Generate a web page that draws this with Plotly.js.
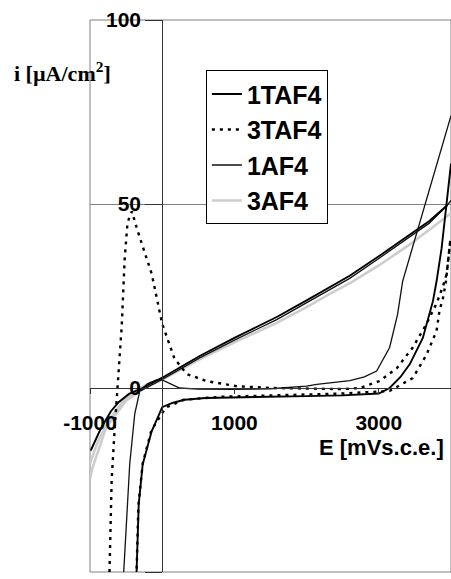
<!DOCTYPE html>
<html>
<head>
<meta charset="utf-8">
<script src="https://cdn.plot.ly/plotly-3.0.1.min.js"></script>
<style>html,body{margin:0;padding:0;background:#fff;}#chart{width:451px;height:579px;}</style>
</head>
<body>
<div id="chart"></div>
<script>
// ---- data (E in mV vs s.c.e., i in µA/cm²) ----
const seriesNames = ["1TAF4", "3TAF4", "1AF4", "3AF4"];

// 1TAF4
const taf1_linE = [-990, -850, -710, -600, -460, -270, 0, 250, 519, 1000, 1586, 2000, 2597, 3000, 3400, 3700, 3945];
const taf1_linI = [-17, -11, -6.3, -3.8, -1.6, 0, 2.8, 5.6, 8.7, 13.6, 19.3, 23.8, 30.5, 35.8, 41.4, 45.4, 49.6];
const taf1_curE = [-355, -325, -270, -145, -50, 0, 150, 310, 600, 1000, 1500, 2000, 2500, 3000, 3150, 3300, 3430, 3610, 3750, 3800, 3870, 3940, 4000];
const taf1_curI = [-50, -31.5, -20.7, -11.7, -7.5, -5.2, -4, -3.2, -2.7, -2.5, -2.3, -2.2, -2, -1.5, 0, 3, 6.5, 13.6, 23.6, 29, 38, 49.5, 61];

// 3TAF4
const taf3_fwdE = [-730, -700, -660, -615, -560, -520, -480, -420, -340, -145, 0, 170, 340, 610, 1030, 1500, 2000, 2500, 2740, 3010, 3250, 3470, 3660, 3800, 3890, 3940, 3990];
const taf3_fwdI = [-50, -25, -11.7, 0, 17, 35, 45, 48, 42.7, 31, 17.4, 8, 3.8, 1.9, 0.5, 0, -0.2, -0.3, 0, 1.9, 5.4, 11, 17.4, 23, 27.7, 31, 40];
const taf3_revE = [3990, 3930, 3890, 3840, 3800, 3660, 3470, 3150, 2500, 1500, 800, 300, 50, -150, -270, -330, -355];
const taf3_revI = [40, 29, 24.5, 21, 15.5, 9, 2.7, -0.8, -1.5, -2, -2.4, -3.2, -5.3, -11.5, -20.5, -32, -50];

// 1AF4
const af1_fwdE = [-533, -490, -450, -380, -310, -200, -80, 0, 100, 240, 500, 1000, 1500, 2000, 2140, 2400, 2600, 2800, 2970, 3150, 3260, 3330, 3450, 3660, 3830, 3980, 4000];
const af1_fwdI = [-50, -34, -20.7, -7, -0.8, 1.2, 2.2, 2.2, 1.2, 0, -0.3, -0.4, -0.2, 0.5, 1, 1.5, 2, 3, 4.6, 11, 20, 29, 37, 51, 62, 72.6, 74];
const af1_revE = [-300, 0, 519, 1000, 1586, 2000, 2597, 3000, 3400, 3700, 3945, 4000];
const af1_revI = [-0.8, 2.3, 8.2, 13, 18.6, 23.1, 29.8, 35.2, 40.8, 44.8, 49.6, 51];

// 3AF4
const af3_aE = [-1000, -965, -780, -505, -250, 0, 519, 1000, 1586, 2000, 2320, 2600, 3000, 3400, 3700, 3940, 4000];
const af3_aI = [-24.5, -21.7, -10.9, -3.5, 0, 2.3, 7.8, 12.4, 17.7, 22, 25.6, 28.5, 33.3, 38.6, 43, 46.8, 47.5];
const af3_bE = [-1000, -900, -750, -550, -350, -150];
const af3_bI = [-20.5, -15, -9, -3.8, -0.5, 1.5];

const yTicks = [-50, 0, 50, 100];
const xTicks = [-1000, 1000, 3000];
const xTickText = ["-1000", "1000", "3000"];

function join(a, b) { return a.concat([null], b); }

const traces = [
  { name: seriesNames[3], x: join(af3_aE, af3_bE), y: join(af3_aI, af3_bI), legendrank: 4,
    mode: "lines", line: { color: "#cdcdcd", width: 2.6 }, connectgaps: false },
  { name: seriesNames[2], x: join(af1_fwdE, af1_revE), y: join(af1_fwdI, af1_revI), legendrank: 3,
    mode: "lines", line: { color: "#111", width: 1.3 }, connectgaps: false },
  { name: seriesNames[0], x: join(taf1_linE, taf1_curE), y: join(taf1_linI, taf1_curI), legendrank: 1,
    mode: "lines", line: { color: "#000", width: 1.9 }, connectgaps: false },
  { name: seriesNames[1], x: join(taf3_fwdE, taf3_revE), y: join(taf3_fwdI, taf3_revI), legendrank: 2,
    mode: "lines", line: { color: "#000", width: 2.4, dash: "3px,5px" }, connectgaps: false }
];

const boldSans = { family: "Liberation Sans, Arial, sans-serif", size: 21, color: "#000", weight: "bold" };

const layout = {
  width: 451, height: 579,
  margin: { l: 90, r: 0, t: 20, b: 7 },
  paper_bgcolor: "#fff", plot_bgcolor: "#fff",
  showlegend: true,
  legend: {
    x: 0.321, y: 0.909, xanchor: "left", yanchor: "top",
    bgcolor: "#fff", bordercolor: "#000", borderwidth: 1,
    font: { family: "Liberation Sans, Arial, sans-serif", size: 25, color: "#000", weight: "bold" },
    traceorder: "normal"
  },
  xaxis: {
    range: [-1000, 4000], tickvals: xTicks, ticktext: xTickText,
    anchor: "free", position: 1 / 3,
    showline: true, linecolor: "#333", linewidth: 1,
    ticks: "outside", ticklen: 5, tickcolor: "#333",
    ticklabelstandoff: 11,
    showgrid: false, zeroline: false,
    tickfont: boldSans
  },
  yaxis: {
    range: [-50, 100], tickvals: yTicks,
    anchor: "free", position: 0.2,
    showline: true, linecolor: "#333", linewidth: 1,
    ticks: "outside", ticklen: 17, tickcolor: "#333",
    showgrid: true, gridcolor: "#808080", gridwidth: 1,
    zeroline: false,
    tickfont: boldSans
  },
  shapes: [
    { type: "rect", xref: "paper", yref: "paper", x0: 0, x1: 1, y0: 0, y1: 1,
      line: { color: "#808080", width: 1 }, layer: "below" }
  ],
  annotations: [
    { xref: "paper", yref: "paper", x: -0.216, y: 0.906, xanchor: "left", yanchor: "middle",
      text: "<b>i [µA/cm<sup>2</sup>]</b>", showarrow: false,
      font: { family: "Liberation Serif, Times New Roman, serif", size: 22, color: "#000" } },
    { xref: "paper", yref: "paper", x: 0.985, y: 0.2264, xanchor: "right", yanchor: "middle",
      text: "<b>E [mVs.c.e.]</b>", showarrow: false,
      font: { family: "Liberation Sans, Arial, sans-serif", size: 22, color: "#000" } }
  ]
};

Plotly.newPlot("chart", traces, layout, { displayModeBar: false, staticPlot: true });
</script>
</body>
</html>
